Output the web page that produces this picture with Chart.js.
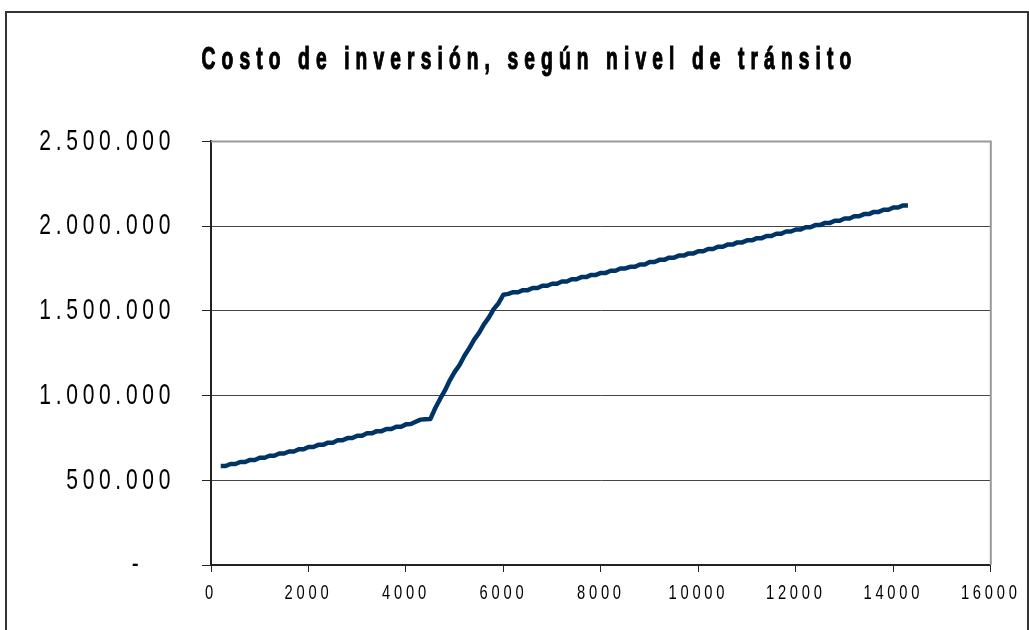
<!DOCTYPE html>
<html>
<head>
<meta charset="utf-8">
<script src="https://cdn.jsdelivr.net/npm/chart.js@4.4.1/dist/chart.umd.min.js"></script>
<style>
  html, body { margin: 0; padding: 0; background: #fff; overflow: hidden; }
  #frame { position: absolute; left: 5px; top: 11px; width: 1020px; height: 700px; border: 2px solid #333; }
  #wrap { position: absolute; left: 0; top: 0; width: 1029px; height: 630px; }
</style>
</head>
<body>
<div id="frame"></div>
<div id="wrap"><canvas id="chart" width="1029" height="630"></canvas></div>
<script>
const TITLE = "Costo de inversión, según nivel de tránsito";

// nivel de tránsito (x)
const transito = [
  200, 300, 400, 500, 600, 700, 800, 900,
  1000, 1100, 1200, 1300, 1400, 1500, 1600, 1700, 1800, 1900,
  2000, 2100, 2200, 2300, 2400, 2500, 2600, 2700, 2800, 2900,
  3000, 3100, 3200, 3300, 3400, 3500, 3600, 3700, 3800, 3900,
  4000, 4100, 4200, 4300, 4400, 4500, 4600, 4700, 4800, 4900,
  5000, 5100, 5200, 5300, 5400, 5500, 5600, 5700, 5800, 5900,
  6000, 6100, 6200, 6300, 6400, 6500, 6600, 6700, 6800, 6900,
  7000, 7100, 7200, 7300, 7400, 7500, 7600, 7700, 7800, 7900,
  8000, 8100, 8200, 8300, 8400, 8500, 8600, 8700, 8800, 8900,
  9000, 9100, 9200, 9300, 9400, 9500, 9600, 9700, 9800, 9900,
  10000, 10100, 10200, 10300, 10400, 10500, 10600, 10700, 10800, 10900,
  11000, 11100, 11200, 11300, 11400, 11500, 11600, 11700, 11800, 11900,
  12000, 12100, 12200, 12300, 12400, 12500, 12600, 12700, 12800, 12900,
  13000, 13100, 13200, 13300, 13400, 13500, 13600, 13700, 13800, 13900,
  14000, 14100, 14200, 14300
];

// costo de inversión (y)
const costo = [
  584000, 584000, 596000, 596000, 608000, 608000, 620000, 620000,
  633000, 633000, 645000, 645000, 658000, 658000, 670000, 670000, 683000, 683000,
  696000, 696000, 709000, 709000, 722000, 722000, 736000, 736000, 749000, 749000,
  763000, 763000, 777000, 777000, 790000, 790000, 803000, 803000, 816000, 816000,
  830000, 832000, 845000, 858000, 860000, 861000, 925000, 980000, 1030000, 1090000,
  1140000, 1180000, 1235000, 1280000, 1330000, 1370000, 1420000, 1460000, 1510000, 1545000,
  1595000, 1600000, 1610000, 1610000, 1622000, 1622000, 1635000, 1635000, 1648000, 1648000,
  1660000, 1660000, 1673000, 1673000, 1686000, 1686000, 1699000, 1699000, 1712000, 1712000,
  1724000, 1724000, 1737000, 1737000, 1750000, 1750000, 1760000, 1760000, 1774000, 1774000,
  1788000, 1788000, 1801000, 1801000, 1814000, 1814000, 1826000, 1826000, 1839000, 1839000,
  1852000, 1852000, 1865000, 1865000, 1878000, 1878000, 1891000, 1891000, 1904000, 1904000,
  1916000, 1916000, 1929000, 1929000, 1942000, 1942000, 1955000, 1955000, 1968000, 1968000,
  1980000, 1980000, 1993000, 1993000, 2006000, 2006000, 2019000, 2019000, 2032000, 2032000,
  2045000, 2045000, 2058000, 2058000, 2071000, 2071000, 2084000, 2084000, 2097000, 2097000,
  2110000, 2110000, 2122000, 2122000
];

const xTicks = [0, 2000, 4000, 6000, 8000, 10000, 12000, 14000, 16000];
const yTicks = [0, 500000, 1000000, 1500000, 2000000, 2500000];

const FONT = '"Liberation Sans", Arial, sans-serif';

function miles(v) {
  if (v === 0) return "-   ";
  return String(v).replace(/\B(?=(\d{3})+(?!\d))/g, ".");
}

// narrow, spread-out lettering like the Excel original:
// every fillText is squeezed horizontally around its anchor point
function squeezed(ctx, sx, spacing, dx, heavy, fn) {
  const orig = CanvasRenderingContext2D.prototype.fillText;
  ctx.save();
  ctx.letterSpacing = spacing;
  ctx.translate(dx, 0);
  ctx.fillText = function (t, x, y, mw) {
    this.save();
    this.translate(x, y);
    this.scale(sx, 1);
    if (mw === undefined) orig.call(this, t, 0, 0);
    else orig.call(this, t, 0, 0, mw / sx);
    if (heavy) {
      this.strokeStyle = this.fillStyle;
      this.lineWidth = heavy;
      this.strokeText(t, 0, 0);
    }
    this.restore();
  };
  try { fn(); } finally {
    delete ctx.fillText;
    ctx.restore();
  }
}

const lettering = {
  id: "lettering",
  beforeDraw(chart) {
    const cfg = { x: [0.7, "5.4px"], y: [0.7, "6.7px"] };
    Object.keys(cfg).forEach(id => {
      const s = chart.scales[id];
      if (s._squeezed) return;
      const orig = s.drawLabels;
      s.drawLabels = function (area) {
        squeezed(this.ctx, cfg[id][0], cfg[id][1], 0, 0, () => orig.call(this, area));
      };
      s._squeezed = true;
    });
    const t = chart.titleBlock;
    if (t && !t._squeezed) {
      const orig = t.draw;
      t.draw = function (area) {
        squeezed(this.ctx, 0.6, "10.2px", 19, 1.2, () => orig.call(this, area));
      };
      t._squeezed = true;
    }
  }
};

const plotBorder = {
  id: "plotBorder",
  beforeDatasetsDraw(chart) {
    const { ctx, chartArea: a } = chart;
    ctx.save();
    ctx.strokeStyle = "#999";
    ctx.lineWidth = 2;
    ctx.beginPath();
    ctx.moveTo(a.left, a.top);
    ctx.lineTo(a.right, a.top);
    ctx.lineTo(a.right, a.bottom);
    ctx.stroke();
    ctx.restore();
  }
};

new Chart(document.getElementById("chart"), {
  type: "line",
  data: {
    datasets: [{
      data: transito.map((x, i) => ({ x: x, y: costo[i] })),
      borderColor: "#003366",
      borderWidth: 4.5,
      borderJoinStyle: "round",
      pointRadius: 0,
      tension: 0,
      fill: false
    }]
  },
  options: {
    responsive: false,
    devicePixelRatio: 1,
    animation: false,
    layout: { padding: { left: 30, right: 38, top: 0, bottom: 0 } },
    plugins: {
      legend: { display: false },
      tooltip: { enabled: false },
      title: {
        display: true,
        text: TITLE,
        color: "#000",
        font: { family: FONT, size: 32, weight: "bold" },
        padding: { top: 41, bottom: 62 }
      }
    },
    scales: {
      x: {
        type: "linear",
        min: 0, max: 16000,
        afterBuildTicks: s => { s.ticks = xTicks.map(v => ({ value: v })); },
        afterFit: s => { s.height = 65; },
        grid: { drawOnChartArea: false, drawTicks: true, tickLength: 7, tickColor: "#222" },
        border: { color: "#222", width: 2 },
        ticks: {
          color: "#000",
          font: { family: FONT, size: 21 },
          padding: 9,
          maxRotation: 0,
          autoSkip: false,
          callback: v => String(v)
        }
      },
      y: {
        type: "linear",
        min: 0, max: 2500000,
        afterBuildTicks: s => { s.ticks = yTicks.map(v => ({ value: v })); },
        afterFit: s => { s.width = 181; },
        grid: {
          color: c => (c.tick && c.tick.value === 2500000) ? "#999" : "#444",
          lineWidth: 1,
          tickLength: 9,
          tickColor: "#222"
        },
        border: { color: "#222", width: 2 },
        ticks: {
          color: "#000",
          font: { family: FONT, size: 30 },
          padding: 27,
          callback: v => miles(v)
        }
      }
    }
  },
  plugins: [lettering, plotBorder]
});
</script>
</body>
</html>
